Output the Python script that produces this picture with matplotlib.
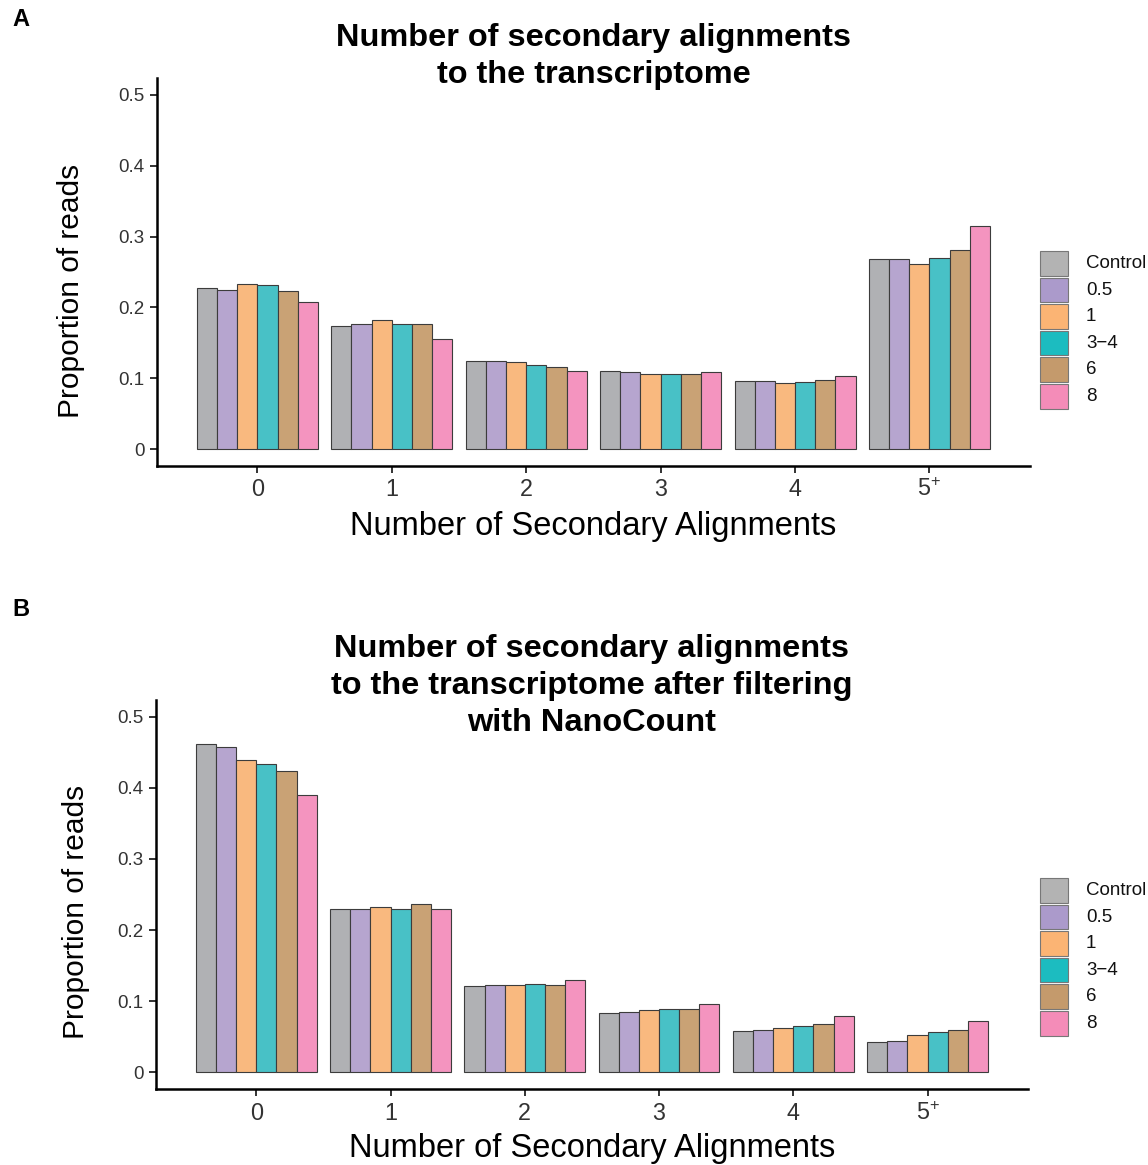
import matplotlib
matplotlib.use("Agg")
import matplotlib.pyplot as plt
import numpy as np
from matplotlib.patches import Rectangle

plt.rcParams['font.family'] = ['Liberation Sans', 'DejaVu Sans']
plt.rcParams['mathtext.fontset'] = 'custom'
plt.rcParams['mathtext.rm'] = 'Liberation Sans'

categories = ['0', '1', '2', '3', '4', r'5$^{\mathregular{+}}$']
groups = ['Control', '0.5', '1', '3\u22124', '6', '8']
bar_colors = ['#b0b1b4', '#b6a5cf', '#f9b97f', '#48c1c6', '#c9a275', '#f494bf']
legend_colors = ['#b3b3b3', '#ab9acb', '#fbb474', '#1cbcc0', '#c49a6c', '#f48cb8']

# Panel A: rows = categories, columns = groups
values_a = [
    [0.227, 0.225, 0.233, 0.232, 0.223, 0.208],
    [0.174, 0.176, 0.183, 0.177, 0.176, 0.155],
    [0.124, 0.125, 0.1225, 0.119, 0.116, 0.111],
    [0.110, 0.109, 0.1066, 0.1066, 0.1066, 0.1085],
    [0.097, 0.096, 0.0934, 0.0948, 0.0976, 0.1038],
    [0.268, 0.268, 0.261, 0.2695, 0.281, 0.3145],
]
# Panel B
values_b = [
    [0.461, 0.457, 0.439, 0.433, 0.423, 0.390],
    [0.230, 0.230, 0.233, 0.229, 0.236, 0.230],
    [0.1216, 0.123, 0.123, 0.1244, 0.123, 0.130],
    [0.084, 0.085, 0.087, 0.089, 0.0887, 0.0962],
    [0.0587, 0.0596, 0.0624, 0.0652, 0.0686, 0.0793],
    [0.0427, 0.0437, 0.0526, 0.0568, 0.0601, 0.0718],
]
yticks = [0, 0.1, 0.2, 0.3, 0.4, 0.5]
ytick_labels = ['0', '0.1', '0.2', '0.3', '0.4', '0.5']

title_a = ["Number of secondary alignments", "to the transcriptome"]
title_b = ["Number of secondary alignments", "to the transcriptome after filtering",
           "with NanoCount"]

W, H = 1148, 1165
fig = plt.figure(figsize=(W / 100, H / 100), dpi=100)


def px_axes(l, t, r, b):
    return fig.add_axes([l / W, 1 - b / H, (r - l) / W, (b - t) / H])


def draw(ax, values, title_lines, title_y0, legend_top, ylabel_xy, xlabel_pad):
    vals = np.array(values)
    n = len(groups)
    x = np.arange(len(categories))
    width = 0.9 / n
    for j in range(n):
        ax.bar(x - 0.45 + width * (j + 0.5), vals[:, j], width=width,
               color=bar_colors[j], edgecolor='#3c3c3c', linewidth=0.8)
    ax.set_xlim(-0.747, 5.748)
    ax.set_ylim(-0.0235, 0.5235)
    ax.set_yticks(yticks)
    ax.set_yticklabels(ytick_labels, fontsize=13.5, color='#333333')
    ax.set_xticks(x)
    ax.set_xticklabels(categories, fontsize=16.8, color='#333333')
    for s in ['top', 'right']:
        ax.spines[s].set_visible(False)
    for s in ['left', 'bottom']:
        ax.spines[s].set_linewidth(1.8)
        ax.spines[s].set_color('black')
    ax.tick_params(axis='both', length=5, width=1.4, color='#333333', pad=4)
    ax.set_xlabel('Number of Secondary Alignments', fontsize=23.5, labelpad=xlabel_pad)
    ax.set_ylabel('Proportion of reads', fontsize=21.5)
    ax.yaxis.set_label_coords(*ylabel_xy)
    # title lines
    cx = (ax.get_position().x0 + ax.get_position().x1) / 2
    for i, line in enumerate(title_lines):
        fig.text(cx, 1 - (title_y0 + 37 * i) / H, line, fontsize=23.4,
                 fontweight='bold', ha='center', va='center')
    # legend (manual keys)
    for j, (c, g) in enumerate(zip(legend_colors, groups)):
        top = legend_top + 26.6 * j
        fig.add_artist(Rectangle((1040 / W, 1 - (top + 24.5) / H), 28 / W, 24.5 / H,
                                 transform=fig.transFigure, facecolor=c,
                                 edgecolor='#777777', linewidth=0.8))
        fig.text(1086 / W, 1 - (top + 12.5) / H, g, fontsize=13.5,
                 ha='left', va='center', color='#111111')


ax_a = px_axes(157, 78, 1030, 466)
draw(ax_a, values_a, title_a, 38, 251, (-0.083, 0.45), 7)
ax_b = px_axes(156, 700, 1028, 1089)
draw(ax_b, values_b, title_b, 649, 878, (-0.076, 0.455), 6)

fig.text(12 / W, 1 - 20 / H, 'A', fontsize=17, fontweight='bold', va='center', ha='left')
fig.text(12 / W, 1 - 610 / H, 'B', fontsize=17, fontweight='bold', va='center', ha='left')

fig.savefig('out.png', dpi=100)
